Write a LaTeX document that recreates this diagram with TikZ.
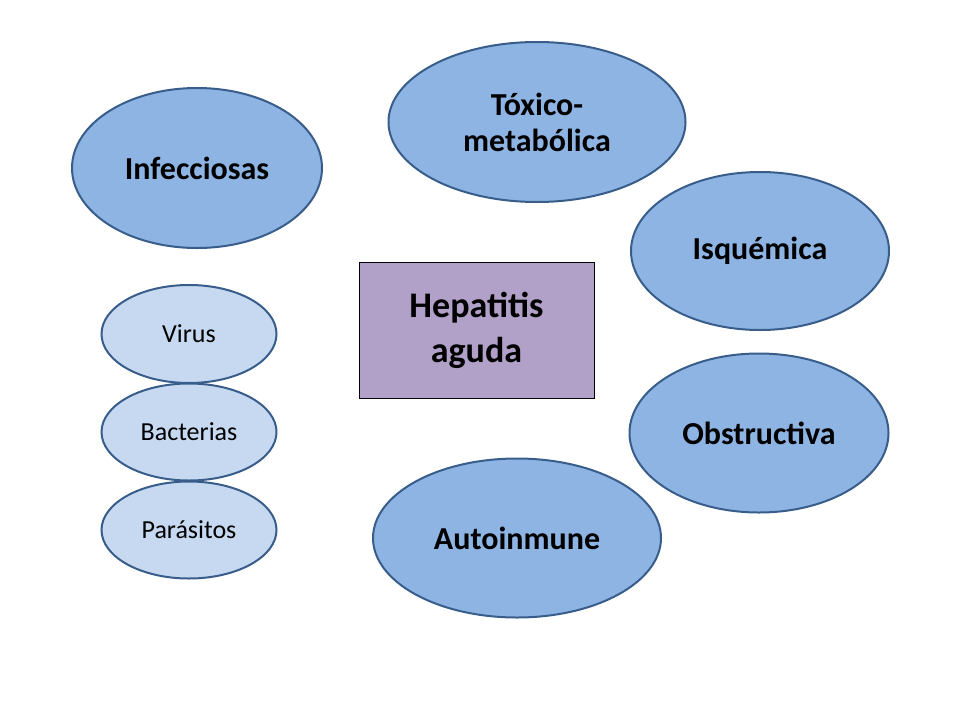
\documentclass[tikz,border=0pt]{standalone}
\usepackage{fontspec}
\setmainfont{Carlito}
\usetikzlibrary{shapes.geometric}
\definecolor{bigfill}{HTML}{8EB4E3}
\definecolor{smallfill}{HTML}{C6D9F1}
\definecolor{edgeblue}{HTML}{385D8A}
\definecolor{boxfill}{HTML}{B1A0C7}
\tikzset{
  big/.style={ellipse, draw=edgeblue, fill=bigfill, line width=2pt, inner sep=0pt,
    font=\fontsize{32}{36}\selectfont\bfseries, align=center},
  small/.style={ellipse, draw=edgeblue, fill=smallfill, line width=2pt, inner sep=0pt,
    font=\fontsize{26}{30}\selectfont},
  centre/.style={rectangle, draw=black, fill=boxfill, line width=1pt, inner sep=0pt,
    font=\fontsize{36}{45}\selectfont\bfseries, align=center}
}
\begin{document}
\begin{tikzpicture}[x=1pt,y=-1pt]
\useasboundingbox (0,0) rectangle (960,720);
\node[big, minimum width=250, minimum height=160] (inf) at (197,168) {Infecciosas};
\node[big, minimum width=297, minimum height=160] (tox) at (537,122) {Tóxico-\\metabólica};
\node[big, minimum width=258, minimum height=158] (isq) at (760,251) {Isquémica};
\node[big, minimum width=259, minimum height=159] (obs) at (759,433) {Obstructiva};
\node[big, minimum width=288, minimum height=159] (aut) at (517,538) {Autoinmune};
\node[small, minimum width=175, minimum height=98] (vir) at (189,334) {Virus};
\node[small, minimum width=175, minimum height=97] (bac) at (189,432) {Bacterias};
\node[small, minimum width=175, minimum height=97] (par) at (189,530) {Parásitos};
\node[centre, minimum width=235, minimum height=136] (hep) at (476.5,330) {Hepatitis\\aguda};
\end{tikzpicture}
\end{document}
